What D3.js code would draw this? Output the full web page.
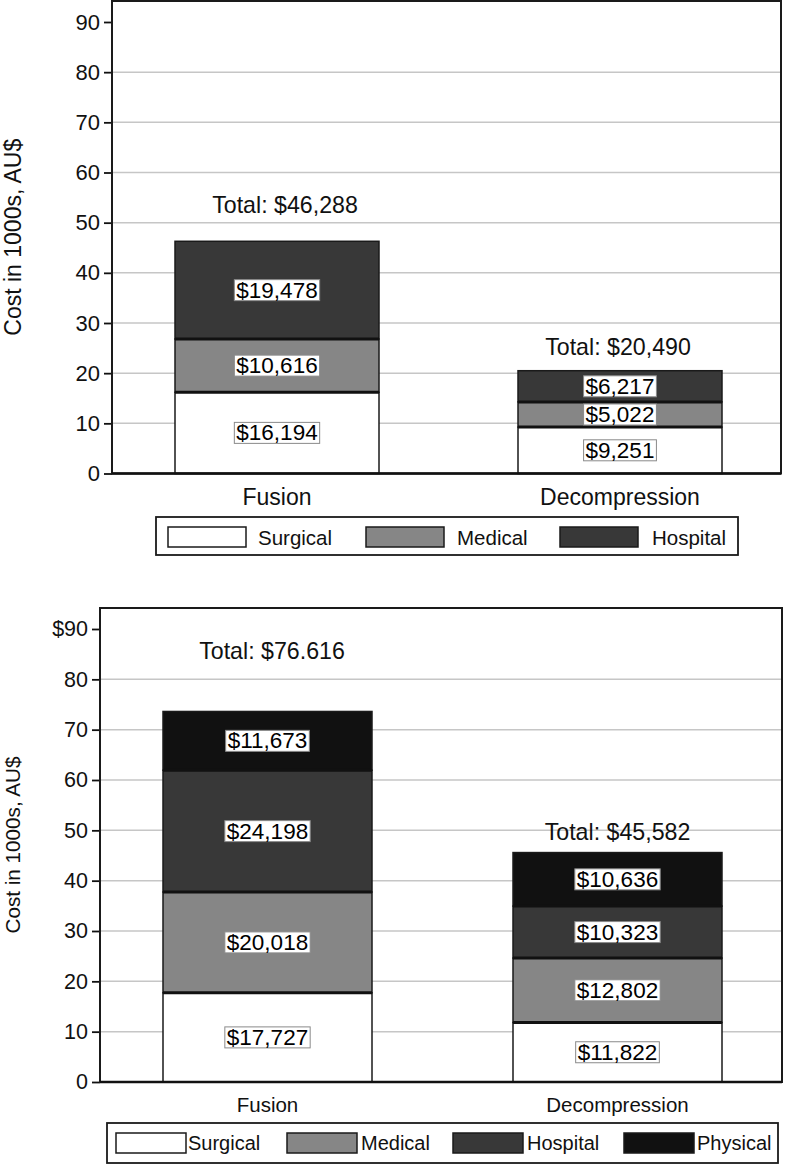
<!DOCTYPE html>
<html>
<head>
<meta charset="utf-8">
<script src="https://cdn.jsdelivr.net/npm/d3@7"></script>
<style>
  html, body { margin: 0; padding: 0; background: #fff; }
  svg { display: block; font-family: "Liberation Sans", Arial, Helvetica, sans-serif; }
</style>
</head>
<body>
<svg id="chart" width="787" height="1165"></svg>
<script>
// ---------- DATA ----------
const categories = ["Fusion", "Decompression"];

// Top panel
const topSeries = ["Surgical", "Medical", "Hospital"];
const topSurgical = [16.194, 9.251];
const topMedical = [10.616, 5.022];
const topHospital = [19.478, 6.217];
const topTotalLabels = ["Total: $46,288", "Total: $20,490"];
const topTickValues = [0, 10, 20, 30, 40, 50, 60, 70, 80, 90];
const topTickLabels = ["0", "10", "20", "30", "40", "50", "60", "70", "80", "90"];

// Bottom panel
const bottomSeries = ["Surgical", "Medical", "Hospital", "Physical"];
const bottomSurgical = [17.727, 11.822];
const bottomMedical = [20.018, 12.802];
const bottomHospital = [24.198, 10.323];
const bottomPhysical = [11.673, 10.636];
const bottomTotalLabels = ["Total: $76.616", "Total: $45,582"];
const bottomTickValues = [0, 10, 20, 30, 40, 50, 60, 70, 80, 90];
const bottomTickLabels = ["0", "10", "20", "30", "40", "50", "60", "70", "80", "$90"];

const yTitle = "Cost in 1000s, AU$";

// ---------- STYLE ----------
const colors = { Surgical: "#ffffff", Medical: "#868686", Hospital: "#383838", Physical: "#111111" };
const svg = d3.select("#chart");
const fmt = d3.format(",");

function drawPanel(cfg) {
  const g = svg.append("g");
  const y = d3.scaleLinear().domain([0, 90]).range([cfg.y0, cfg.y90]);
  const x = d3.scalePoint().domain(categories).range(cfg.xCenters);

  // gridlines
  g.append("g").selectAll("line")
    .data(cfg.tickValues.filter(v => v > 0 && v < 90))
    .join("line")
    .attr("x1", cfg.left).attr("x2", cfg.right)
    .attr("y1", d => y(d)).attr("y2", d => y(d))
    .attr("stroke", "#c6c6c6").attr("stroke-width", 1.5);

  // y axis
  const axis = d3.axisLeft(y)
    .tickValues(cfg.tickValues)
    .tickFormat((d, i) => cfg.tickLabels[i])
    .tickSize(8).tickPadding(4);
  const ag = g.append("g").attr("transform", `translate(${cfg.left},0)`).call(axis);
  ag.select(".domain").remove();
  ag.selectAll(".tick line").attr("stroke", "#111").attr("stroke-width", 1.8);
  ag.selectAll(".tick text").attr("font-size", cfg.tickFont).attr("fill", "#111")
    .attr("font-family", "Liberation Sans, Arial, sans-serif");

  // stacked bars
  const rows = categories.map((c, i) => {
    const r = { category: c };
    cfg.series.forEach((s, k) => { r[s] = cfg.values[k][i]; });
    return r;
  });
  const stack = d3.stack().keys(cfg.series)(rows);
  const bw = cfg.barWidth;

  stack.forEach(layer => {
    g.append("g").selectAll("rect")
      .data(layer)
      .join("rect")
      .attr("x", d => x(d.data.category) - bw / 2)
      .attr("width", bw)
      .attr("y", d => y(d[1]))
      .attr("height", d => y(d[0]) - y(d[1]))
      .attr("fill", colors[layer.key])
      .attr("stroke", "#1a1a1a").attr("stroke-width", 1.5);
  });
  // thicker boundaries between segments
  stack.slice(0, -1).forEach(layer => {
    g.append("g").selectAll("line")
      .data(layer)
      .join("line")
      .attr("x1", d => x(d.data.category) - bw / 2)
      .attr("x2", d => x(d.data.category) + bw / 2)
      .attr("y1", d => y(d[1])).attr("y2", d => y(d[1]))
      .attr("stroke", "#111").attr("stroke-width", 3);
  });

  // segment labels with boxes
  stack.forEach(layer => {
    layer.forEach(d => {
      const cx = x(d.data.category);
      const cy = (y(d[0]) + y(d[1])) / 2;
      const lg = g.append("g");
      const rect = lg.append("rect");
      const t = lg.append("text")
        .attr("x", cx).attr("y", cy)
        .attr("text-anchor", "middle").attr("dominant-baseline", "central")
        .attr("font-size", cfg.labelFont).attr("fill", "#000")
        .text("$" + fmt(Math.round((d[1] - d[0]) * 1000)));
      const bb = t.node().getBBox();
      rect.attr("x", bb.x - 2).attr("y", cy - 10.5)
        .attr("width", bb.width + 4).attr("height", 21)
        .attr("fill", "#fff").attr("stroke", "#8a8a8a").attr("stroke-width", 1);
    });
  });

  // totals
  g.append("g").selectAll("text")
    .data(categories)
    .join("text")
    .attr("x", (c, i) => x(c) + cfg.totalDx[i])
    .attr("y", (c, i) => y(stack[stack.length - 1][i][1]) - cfg.totalGap[i])
    .attr("text-anchor", "middle").attr("dominant-baseline", "central")
    .attr("font-size", cfg.totalFont).attr("fill", "#111")
    .text((c, i) => cfg.totalLabels[i]);

  // frame
  g.append("rect")
    .attr("x", cfg.left).attr("y", cfg.top)
    .attr("width", cfg.right - cfg.left).attr("height", cfg.y0 - cfg.top)
    .attr("fill", "none").attr("stroke", "#1a1a1a").attr("stroke-width", 2);
  g.append("line")
    .attr("x1", cfg.left).attr("x2", cfg.right)
    .attr("y1", cfg.y0).attr("y2", cfg.y0)
    .attr("stroke", "#111").attr("stroke-width", 2.5);

  // category labels
  g.append("g").selectAll("text")
    .data(categories)
    .join("text")
    .attr("x", c => x(c)).attr("y", cfg.catY)
    .attr("text-anchor", "middle").attr("dominant-baseline", "central")
    .attr("font-size", cfg.catFont).attr("fill", "#111")
    .text(c => c);

  // y title
  g.append("text")
    .attr("transform", `translate(${cfg.titleX},${(cfg.top + cfg.y0) / 2}) rotate(-90)`)
    .attr("text-anchor", "middle").attr("dominant-baseline", "central")
    .attr("font-size", cfg.titleFont).attr("fill", "#111")
    .text(yTitle);

  // legend
  const L = cfg.legend;
  g.append("rect")
    .attr("x", L.x0).attr("y", L.y0).attr("width", L.x1 - L.x0).attr("height", L.y1 - L.y0)
    .attr("fill", "#fff").attr("stroke", "#1a1a1a").attr("stroke-width", 1.8);
  const li = g.append("g").selectAll("g").data(cfg.series).join("g");
  li.append("rect")
    .attr("x", (s, i) => L.sw[i]).attr("y", L.sy)
    .attr("width", L.sww).attr("height", L.swh)
    .attr("fill", s => colors[s]).attr("stroke", "#1a1a1a").attr("stroke-width", 1.5);
  li.append("text")
    .attr("x", (s, i) => L.tx[i]).attr("y", L.sy + L.swh / 2)
    .attr("dominant-baseline", "central")
    .attr("font-size", L.font).attr("fill", "#111")
    .text(s => s);
}

drawPanel({
  series: topSeries,
  values: [topSurgical, topMedical, topHospital],
  totalLabels: topTotalLabels,
  tickValues: topTickValues, tickLabels: topTickLabels,
  left: 112, right: 781, top: 1, y0: 473.5, y90: 22,
  xCenters: [277, 620], barWidth: 204,
  totalDx: [8, -2], totalGap: [36, 24],
  tickFont: 22, labelFont: 22.5, totalFont: 23.2, catFont: 23, titleFont: 23,
  catY: 497, titleX: 13,
  legend: { x0: 156, x1: 738, y0: 517, y1: 555, sy: 527, swh: 20, sww: 78,
            sw: [168, 366, 560], tx: [258, 457, 652], font: 20.5 }
});

drawPanel({
  series: bottomSeries,
  values: [bottomSurgical, bottomMedical, bottomHospital, bottomPhysical],
  totalLabels: bottomTotalLabels,
  tickValues: bottomTickValues, tickLabels: bottomTickLabels,
  left: 100, right: 782, top: 608, y0: 1082, y90: 629,
  xCenters: [267.5, 617.5], barWidth: 209,
  totalDx: [4.5, 0], totalGap: [60, 21],
  tickFont: 21.5, labelFont: 22.5, totalFont: 23.2, catFont: 20.5, titleFont: 20.7,
  catY: 1104, titleX: 12,
  legend: { x0: 107, x1: 778, y0: 1123, y1: 1163, sy: 1133, swh: 20, sww: 70,
            sw: [116, 287, 453, 624], tx: [188, 361, 527, 697], font: 20 }
});
</script>
</body>
</html>
